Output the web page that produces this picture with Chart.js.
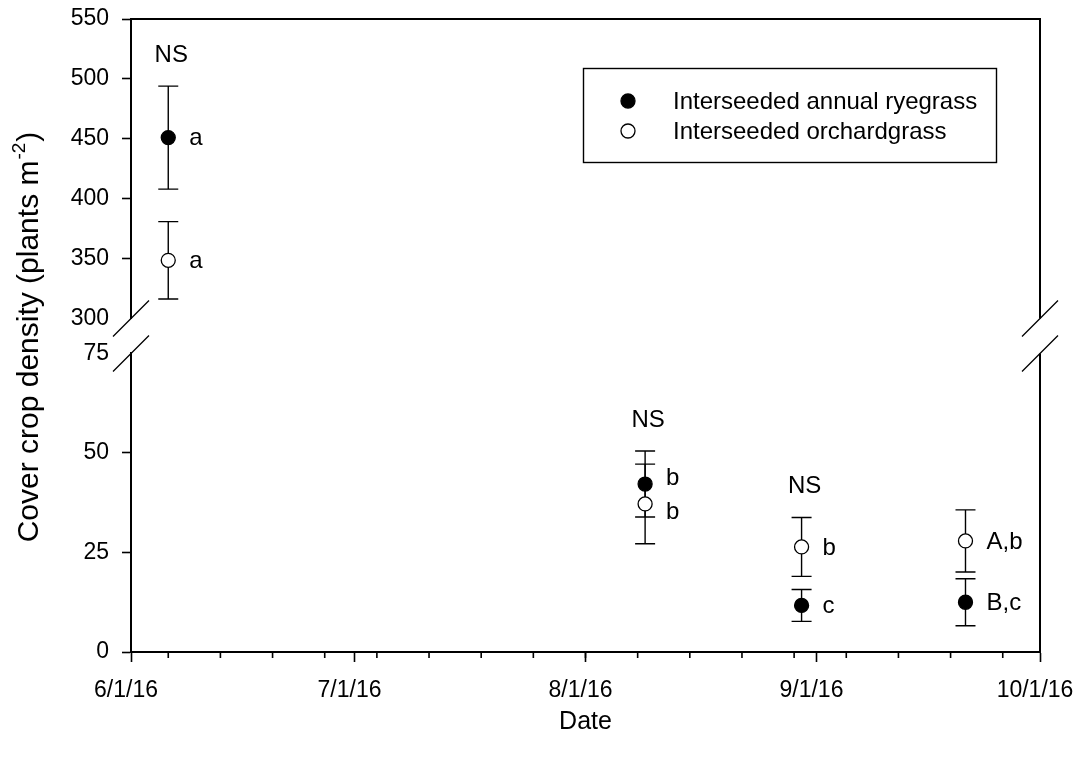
<!DOCTYPE html>
<html><head><meta charset="utf-8">
<script src="https://cdn.jsdelivr.net/npm/chart.js@4.4.1/dist/chart.umd.min.js"></script>
<style>html,body{margin:0;padding:0;background:#fff;}#wrap{width:1078px;height:759px;position:relative;}</style>
</head><body><div id="wrap"><canvas id="c"></canvas></div>
<script>
// ---- data ----
const sampleDates = ['2016-06-06', '2016-08-09', '2016-08-30', '2016-09-21'];
const ryegrassMean = [451, 42.2, 11.7, 12.5];
const ryegrassSE   = [43, 8.3, 4.0, 5.9];
const orchardMean  = [348.6, 37.2, 26.4, 27.9];
const orchardSE    = [32.3, 10.0, 7.4, 7.8];
const ryegrassLetters = ['a', 'b', 'c', 'B,c'];
const orchardLetters  = ['a', 'b', 'b', 'A,b'];
const groupLabels = ['NS', 'NS', 'NS', ''];
const monthTickDates  = ['2016-06-01', '2016-07-01', '2016-08-01', '2016-09-01', '2016-10-01'];
const monthTickLabels = ['6/1/16', '7/1/16', '8/1/16', '9/1/16', '10/1/16'];
const lowTicks  = [0, 25, 50, 75];
const highTicks = [300, 350, 400, 450, 500, 550];
const seriesNames = ['Interseeded annual ryegrass', 'Interseeded orchardgrass'];

const FONT = "'Liberation Sans', Arial, sans-serif";
const BREAK_AT = 200; // values above go to upper segment
const origin = Date.UTC(2016, 5, 1);
const day = s => { const [y, m, d] = s.split('-').map(Number); return (Date.UTC(y, m - 1, d) - origin) / 86400000; };
const xs = sampleDates.map(day);

const series = [
  { name: seriesNames[0], mean: ryegrassMean, se: ryegrassSE, letters: ryegrassLetters, fill: '#000000' },
  { name: seriesNames[1], mean: orchardMean, se: orchardSE, letters: orchardLetters, fill: '#ffffff' }
];

const datasets = [];
series.forEach((s, si) => {
  ['yHigh', 'yLow'].forEach(axis => {
    const pts = [];
    s.mean.forEach((v, i) => {
      const high = v > BREAK_AT;
      if ((axis === 'yHigh') === high) pts.push({ x: xs[i], y: v });
    });
    datasets.push({
      label: s.name, yAxisID: axis, data: pts, showLine: false,
      pointRadius: 7, pointHoverRadius: 7, pointBackgroundColor: s.fill,
      pointBorderColor: '#000', pointBorderWidth: 1.3, pointStyle: 'circle'
    });
  });
});

const tickFont = { family: FONT, size: 23 };
const AXW = 2;
const yCommon = (min, max, ticks, weightPx, order) => ({
  type: 'linear', position: 'left', stack: 'y', stackWeight: weightPx, weight: order,
  min, max,
  afterBuildTicks: sc => { sc.ticks = ticks.map(v => ({ value: v })); },
  afterFit: sc => { sc.width = 131; sc.paddingTop = 0; sc.paddingBottom = 0; },
  ticks: { font: tickFont, color: '#000', padding: 13, autoSkip: false },
  grid: { display: true, drawOnChartArea: false, drawTicks: true, tickLength: 9, tickWidth: 1.6,
          tickColor: c => (c.tick && (c.tick.value === 75 || c.tick.value === 300)) ? 'rgba(0,0,0,0)' : '#000' },
  border: { display: true, color: '#000', width: AXW }
});

function yOf(chart, v) {
  const sc = v > BREAK_AT ? chart.scales.yHigh : chart.scales.yLow;
  return sc.getPixelForValue(v);
}

const decorPlugin = {
  id: 'decor',
  beforeDatasetsDraw(chart) {
    const ctx = chart.ctx, xS = chart.scales.x;
    ctx.save();
    ctx.strokeStyle = '#000'; ctx.lineWidth = 1.4;
    series.forEach(s => {
      s.mean.forEach((v, i) => {
        const px = xS.getPixelForValue(xs[i]);
        const top = yOf(chart, v + s.se[i]), bot = yOf(chart, v - s.se[i]);
        ctx.beginPath();
        ctx.moveTo(px, top); ctx.lineTo(px, bot);
        ctx.moveTo(px - 10, top); ctx.lineTo(px + 10, top);
        ctx.moveTo(px - 10, bot); ctx.lineTo(px + 10, bot);
        ctx.stroke();
      });
    });
    ctx.restore();
  },
  afterDatasetsDraw(chart) {
    const ctx = chart.ctx, xS = chart.scales.x;
    ctx.save();
    ctx.fillStyle = '#000';
    ctx.font = '24px ' + FONT;
    xs.forEach((xv, i) => {
      const px = xS.getPixelForValue(xv);
      const items = series.map(s => ({ t: s.letters[i], y: yOf(chart, s.mean[i]) })).sort((a, b) => a.y - b.y);
      const minSep = 34;
      if (items.length === 2 && items[1].y - items[0].y < minSep) {
        const mid = (items[0].y + items[1].y) / 2;
        items[0].y = mid - minSep / 2; items[1].y = mid + minSep / 2;
      }
      ctx.textAlign = 'left'; ctx.textBaseline = 'middle';
      items.forEach(it => ctx.fillText(it.t, px + 21, it.y + 1));
      if (groupLabels[i]) {
        const tops = series.map(s => yOf(chart, s.mean[i] + s.se[i]));
        ctx.textAlign = 'center';
        ctx.fillText(groupLabels[i], px + 3, Math.min(...tops) - 31);
      }
    });
    ctx.restore();
  },
  afterDraw(chart) {
    const ctx = chart.ctx, xS = chart.scales.x, hi = chart.scales.yHigh, lo = chart.scales.yLow;
    const L = xS.left, R = xS.right;
    ctx.save();
    ctx.strokeStyle = '#000';
    ctx.lineWidth = AXW;
    ctx.beginPath();
    ctx.moveTo(L - 1, hi.top); ctx.lineTo(R + 1, hi.top);
    ctx.moveTo(R, hi.top); ctx.lineTo(R, hi.bottom);
    ctx.moveTo(R, lo.top); ctx.lineTo(R, lo.bottom);
    ctx.stroke();
    ctx.lineWidth = 1.3;
    ctx.beginPath();
    [L, R].forEach(x => {
      [hi.bottom, lo.top].forEach(y => {
        ctx.moveTo(x - 18, y + 18); ctx.lineTo(x + 18, y - 18);
      });
    });
    ctx.stroke();
    // minor weekly ticks (Mondays)
    ctx.lineWidth = 1.6;
    ctx.beginPath();
    const first = day('2016-06-06'), last = day(monthTickDates[monthTickDates.length - 1]);
    for (let d = first; d <= last; d += 7) {
      const px = xS.getPixelForValue(d);
      ctx.moveTo(px, xS.top); ctx.lineTo(px, xS.top + 6);
    }
    ctx.stroke();
    // y title with superscript
    ctx.fillStyle = '#000';
    ctx.translate(38, 338);
    ctx.rotate(-Math.PI / 2);
    const main = 'Cover crop density (plants m', sup = '-2', end = ')';
    const big = '30px ' + FONT, small = '19px ' + FONT;
    ctx.font = big; const w1 = ctx.measureText(main).width, w3 = ctx.measureText(end).width;
    ctx.font = small; const w2 = ctx.measureText(sup).width;
    const x0 = -(w1 + w2 + w3) / 2;
    ctx.textBaseline = 'alphabetic'; ctx.textAlign = 'left';
    ctx.font = big; ctx.fillText(main, x0, 0);
    ctx.font = small; ctx.fillText(sup, x0 + w1 + 1, -13);
    ctx.font = big; ctx.fillText(end, x0 + w1 + w2 + 2, 0);
    ctx.restore();
    // legend
    ctx.save();
    ctx.strokeStyle = '#000'; ctx.lineWidth = 1.4;
    ctx.strokeRect(583.5, 68.5, 413, 94);
    ctx.font = '24px ' + FONT; ctx.textBaseline = 'middle'; ctx.textAlign = 'left';
    series.forEach((s, k) => {
      const y = 101 + k * 30;
      ctx.beginPath(); ctx.arc(628, y, 7, 0, Math.PI * 2);
      ctx.fillStyle = s.fill; ctx.fill(); ctx.lineWidth = 1.3; ctx.stroke();
      ctx.fillStyle = '#000'; ctx.fillText(s.name, 673, y + 1);
    });
    ctx.restore();
  }
};

new Chart(document.getElementById('c'), {
  type: 'scatter',
  data: { datasets },
  options: {
    responsive: true, maintainAspectRatio: false, animation: false,
    layout: { padding: { top: 19, right: 38, left: 0, bottom: 0 } },
    plugins: { legend: { display: false }, tooltip: { enabled: false } },
    scales: {
      x: {
        type: 'linear', min: day(monthTickDates[0]), max: day(monthTickDates[monthTickDates.length - 1]),
        afterBuildTicks: sc => { sc.ticks = monthTickDates.map(d => ({ value: day(d) })); },
        afterFit: sc => { sc.height = 107; sc.paddingLeft = 0; sc.paddingRight = 0; },
        ticks: { font: tickFont, color: '#000', maxRotation: 0, autoSkip: false, padding: 15, labelOffset: -5,
                 callback: (v) => { const k = monthTickDates.findIndex(d => day(d) === v); return k >= 0 ? monthTickLabels[k] : ''; } },
        grid: { display: true, drawOnChartArea: false, drawTicks: true, tickLength: 10, tickWidth: 1.6, tickColor: '#000' },
        border: { display: true, color: '#000', width: AXW },
        title: { display: true, text: 'Date', font: { family: FONT, size: 25 }, color: '#000', padding: { top: 10, bottom: 22 } }
      },
      yLow: yCommon(0, 75, lowTicks, 299, 1),
      yGap: { type: 'linear', position: 'left', stack: 'y', stackWeight: 35, weight: 2, min: 0, max: 1,
              afterFit: sc => { sc.width = 131; sc.paddingTop = 0; sc.paddingBottom = 0; }, ticks: { display: false }, grid: { display: false }, border: { display: false } },
      yHigh: yCommon(300, 550, highTicks, 300, 3)
    }
  },
  plugins: [decorPlugin]
});
</script></body></html>
